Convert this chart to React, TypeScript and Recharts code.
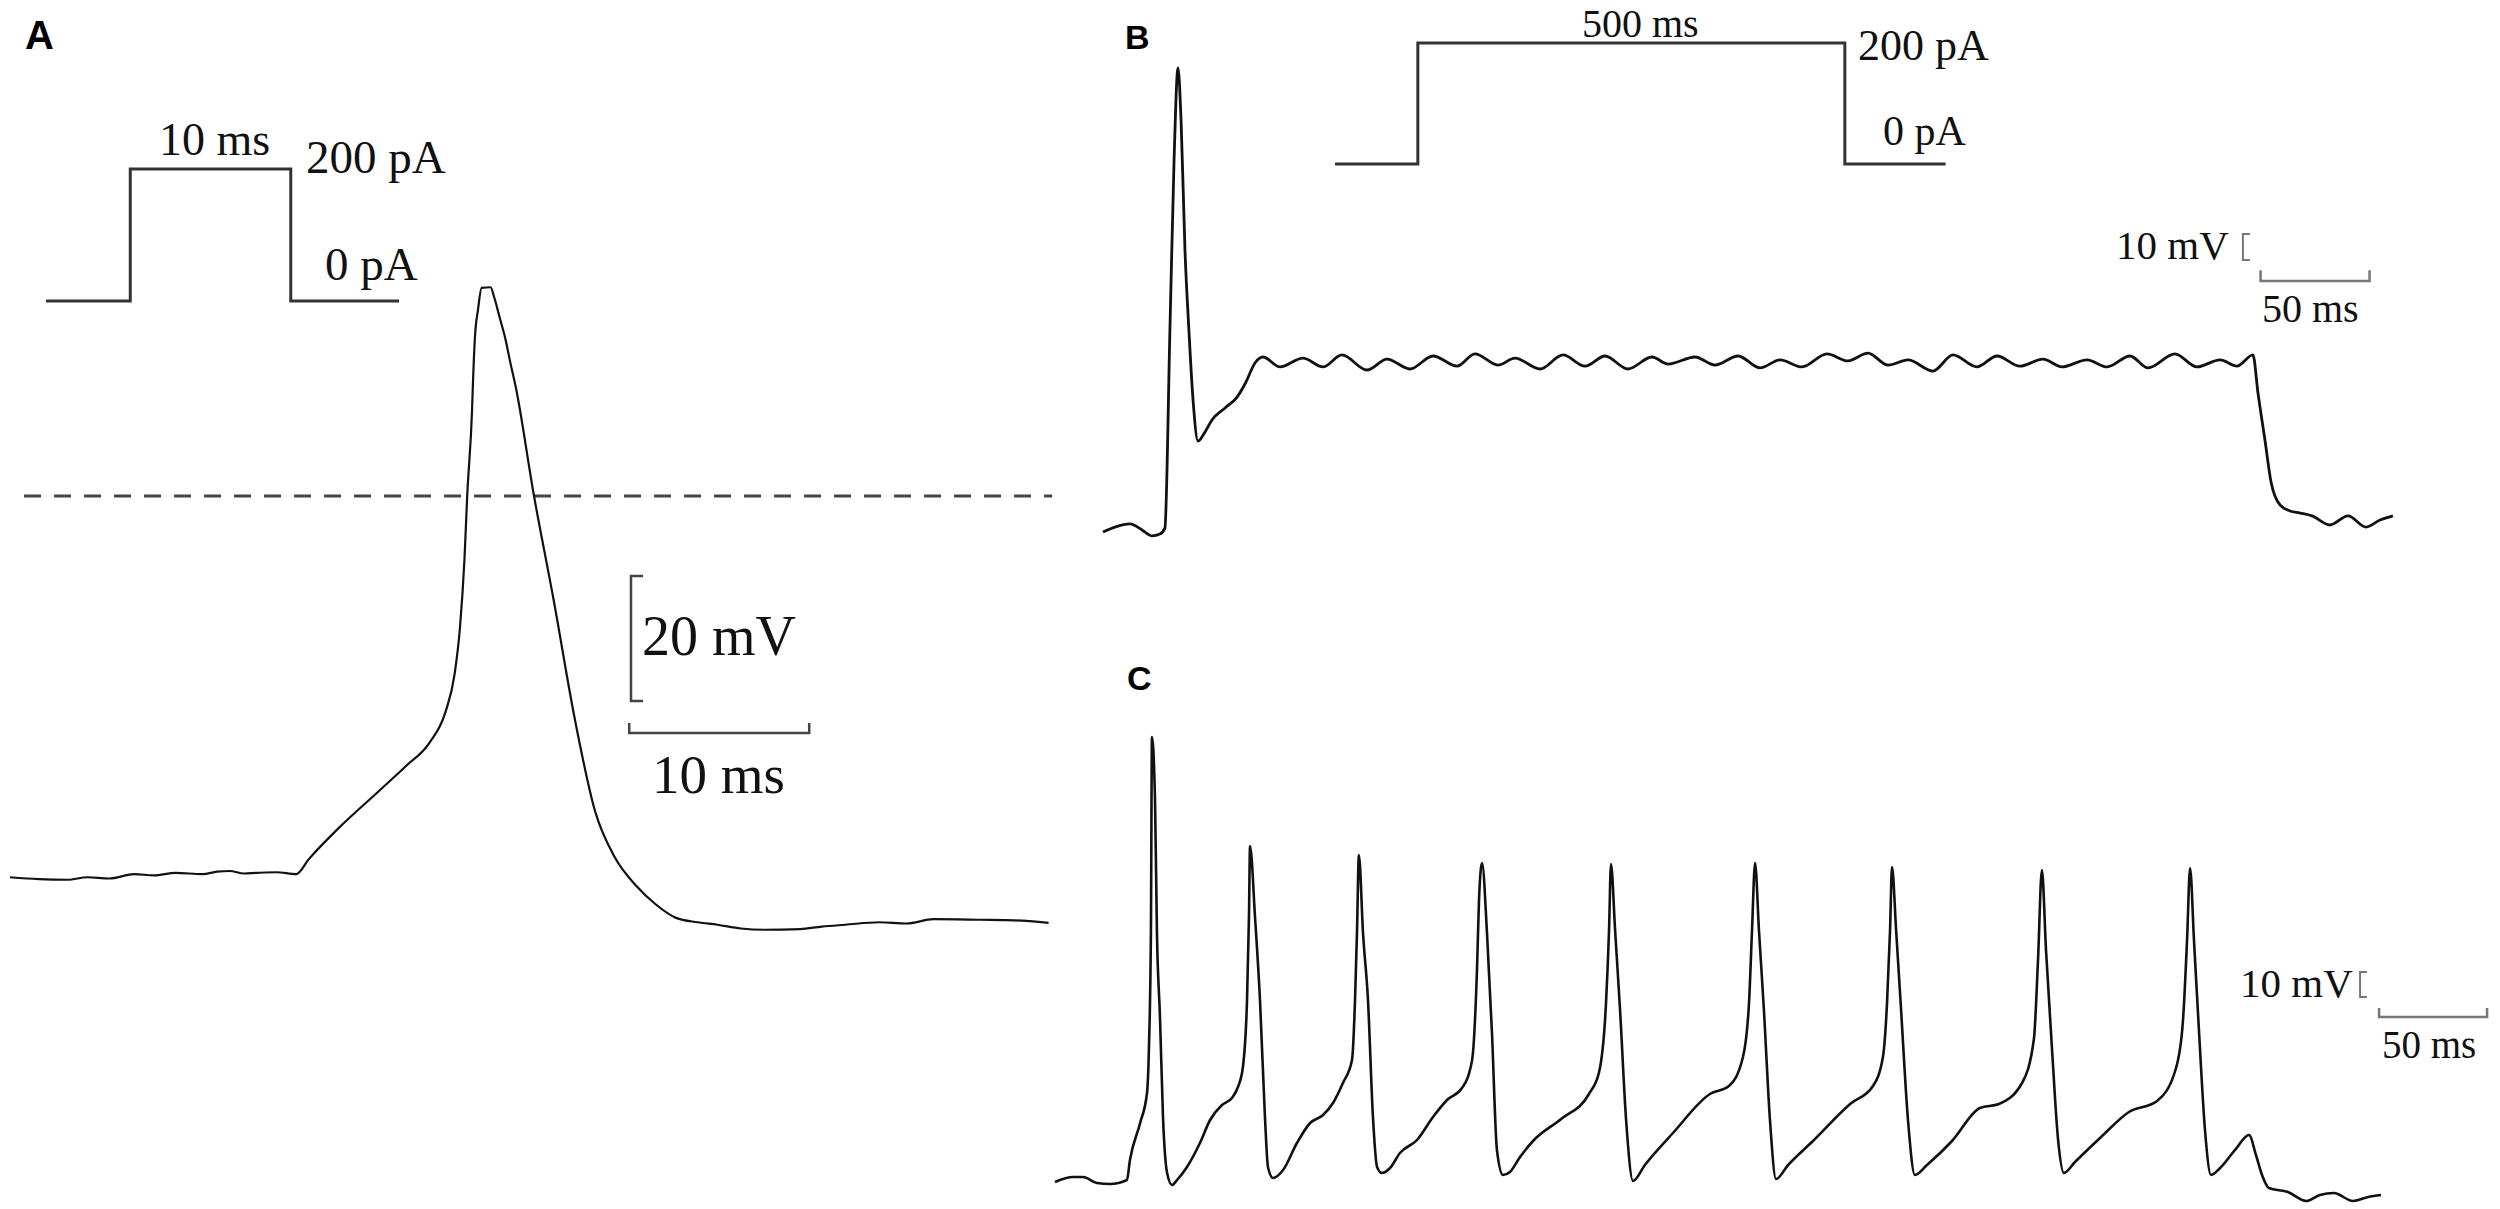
import React from 'react';
import { LineChart, Line, XAxis, YAxis, ReferenceLine } from 'recharts';

const W = 2500;
const H = 1209;

// ---- Panel A: single spike evoked by a 10 ms step ----
const traceATime = [0, 1.6, 3.2, 4.3, 5.5, 6.9, 8.0, 9.2, 10.7, 11.5, 12.2, 13.0, 13.7, 14.8, 15.9, 16.6, 18.2, 20.5, 22.0, 23.3, 24.2, 24.7, 25.0, 25.25, 25.4, 25.67, 25.72, 25.83, 26.0, 26.2, 26.7, 26.9, 27.2, 27.5, 27.8, 28.1, 29.1, 30.2, 31.4, 32.5, 33.6, 34.8, 35.9, 37.0, 38.2, 39.3, 40.6, 41.9, 43.9, 45.1, 46.4, 48.3, 49.8, 51.3, 53.9, 55.8, 57.7];
const traceAVolt = [-61.0, -61.3, -61.4, -61.0, -61.2, -60.5, -60.7, -60.3, -60.5, -60.1, -60.0, -60.4, -60.3, -60.2, -60.5, -58.1, -53.3, -47.2, -43.2, -39.5, -34.5, -28.5, -21.0, -10.0, 0, 13.8, 18.1, 25.4, 29.8, 33.3, 33.4, 31.8, 28.6, 25.4, 21.3, 17.4, 0.2, -16.6, -36.0, -50.4, -57.8, -62.4, -65.4, -67.5, -68.2, -68.6, -69.2, -69.4, -69.3, -68.9, -68.6, -68.2, -68.4, -67.7, -67.8, -67.9, -68.3];
const stimATime = [0, 5.25, 5.25, 15.25, 15.25, 22];
const stimACurrent = [0, 0, 200, 200, 0, 0];

// ---- Panel B: 500 ms step, single spike then plateau ----
const traceBTime = [0, 5.5, 12.4, 17.9, 22.5, 26.1, 28.4, 30.7, 32.6, 34.4, 35.8, 37.6, 39.4, 41.3, 43.6, 46.8, 50.0, 56.0, 61.5, 65.6, 69.7, 73.4,
  81.2, 91.7, 100.9, 109.6, 121.1, 130.3, 140.8, 151.4, 162.4, 170.6, 181.2, 189.0, 200.5, 211.0, 221.1, 230.3, 240.8, 251.8, 259.2, 271.6,
  280.7, 291.3, 301.4, 310.6, 320.6, 332.1, 341.7, 350.9, 360.1, 369.3, 380.7, 389.9, 400.9, 410.1, 420.6, 431.2, 439.9, 451.4, 460.6, 471.1,
  479.4, 491.7, 501.8, 512.4, 520.2, 527.5, 529.8, 533.0, 535.8, 539.9, 544.5, 549.1, 554.6, 562.8, 571.1, 579.4, 585.8, 591.7];
const traceBVolt = [-60, -58.1, -56.9, -59.2, -61.5, -60.8, -58.5, 17.7, 83.1, 118.5, 98.5, 48.5, 17.7, -9.2, -25, -21.5, -16.9, -12.3, -8.1, -2.3, 5.0, 7.3,
  3.5, 6.9, 3.5, 8.1, 2.3, 6.5, 2.7, 7.7, 3.8, 8.5, 4.2, 6.9, 2.7, 8.1, 3.8, 7.7, 2.7, 7.3, 4.6, 7.3,
  4.2, 7.7, 3.1, 6.2, 3.5, 8.5, 5.8, 8.8, 4.2, 6.2, 1.9, 8.1, 3.5, 7.7, 3.8, 6.5, 3.5, 6.2, 3.5, 7.7,
  3.1, 8.5, 3.5, 6.2, 3.8, 8.1, -6.5, -24.6, -40.8, -49.6, -51.9, -52.7, -53.8, -57.3, -53.8, -58.1, -55.4, -53.8];
const stimBTime = [0, 97, 97, 597, 597, 715];
const stimBCurrent = [0, 0, 200, 200, 0, 0];

// ---- Panel C: repetitive firing ----
const traceCTime = [0, 8.3, 13.0, 19.4, 25.5, 33.3, 34.7, 39.4, 42.6, 43.5, 44.4, 44.9, 46.3, 47.2, 48.6, 50.0, 51.9, 54.2, 56.5,
  61.1, 67.1, 71.8, 77.3, 81.9, 84.7, 87.0, 88.9, 89.8, 90.3, 92.6, 94.9, 97.2, 98.6, 100.9, 105.6,
  112.0, 118.1, 124.1, 128.7, 133.3, 137.5, 138.9, 139.8, 140.7, 142.6, 144.9, 147.2, 149.1, 151.4, 155.1,
  159.7, 167.6, 175.0, 181.5, 188.4, 192.1, 193.5, 195.4, 196.3, 197.7, 200.0, 202.3, 204.6, 207.4, 210.6,
  215.3, 221.3, 234.3, 247.2, 251.9, 255.1, 256.5, 257.4, 259.3, 261.6, 264.4, 267.6, 273.1,
  286.1, 303.2, 312.0, 318.5, 321.3, 322.7, 324.1, 325.9, 328.2, 331.0, 333.8, 339.4,
  350.9, 368.1, 378.7, 383.3, 385.2, 386.6, 387.5, 389.4, 391.7, 394.9, 398.1, 403.7,
  415.3, 428.2, 437.0, 447.7, 453.2, 455.1, 456.9, 458.8, 461.6, 464.4, 467.1, 472.2,
  484.3, 497.2, 510.2, 519.0, 522.2, 524.1, 525.5, 527.3, 529.6, 532.4, 535.2, 539.4,
  546.3, 552.8, 556.0, 558.8, 562.0, 570.8, 579.2, 585.6, 592.1, 600.9, 607.9, 613.9];
const traceCVolt = [-60, -58, -58, -60.4, -60.8, -59.2, -51.2, -36.4, -24.4, -6, 39.6, 118, 92.8, 39.6, 6, -34, -56.4, -61.2, -59.2,
  -54, -44.4, -35.2, -29.2, -26.4, -22, -14, 12.8, 46, 74.4, 46, 12.8, -34, -54, -58.4, -55.2,
  -44.4, -36.4, -33.2, -28.4, -20.4, -11.2, 12.8, 39.6, 70.8, 39.6, 12.8, -34, -54, -56.4, -54.4,
  -48.4, -43.2, -34, -27.2, -22.4, -15.2, -8.4, 26, 52.8, 67.6, 39.6, -0.4, -47.2, -57.2, -56,
  -50, -43.6, -34.8, -24.8, -16, 11.6, 40.8, 67.2, 40.8, 8.8, -35.2, -59.6, -53.2,
  -40.4, -24.8, -21.6, -10, 11.6, 40.8, 67.6, 40.8, 8.8, -35.2, -58.8, -53.2,
  -43.6, -28.8, -21.6, -10, 11.6, 40.8, 66, 40.8, 8.8, -35.2, -57.2, -53.2,
  -43.6, -30.4, -28.8, -20.4, -2.8, 28.8, 64.8, 32.8, -7.2, -43.2, -56.4, -52,
  -42, -32, -27.6, -14.4, 4.4, 36.8, 65.6, 36.8, 0.8, -39.2, -57.2, -54.4,
  -47.2, -41.2, -49.2, -57.2, -62.4, -64, -67.6, -65.2, -64.4, -67.6, -66, -65.2];

// scale bar sizes (data units)
const barA = { ms: 10, mV: 20 };
const barB = { ms: 50, mV: 10 };
const barC = { ms: 50, mV: 10 };

const zip = (t: number[], v: number[]) => t.map((x, i) => ({ t: x, v: v[i] }));

// pixel frame of each layer: where (0, yRef) sits and how many px per unit
type Frame = { x0: number; y0: number; px: number; py: number; yRef: number };
const frameA: Frame = { x0: 10, y0: 496, px: 18, py: 6.25, yRef: 0 };
const frameStimA: Frame = { x0: 46, y0: 301, px: 16.05, py: 0.66, yRef: 0 };
const frameB: Frame = { x0: 1103, y0: 532, px: 2.18, py: 2.6, yRef: -60 };
const frameStimB: Frame = { x0: 1335, y0: 164, px: 0.854, py: 0.605, yRef: 0 };
const frameC: Frame = { x0: 1055, y0: 1182, px: 2.16, py: 2.5, yRef: -60 };

const domX = (f: Frame) => [-f.x0 / f.px, (W - f.x0) / f.px];
const domY = (f: Frame) => [f.yRef - (H - f.y0) / f.py, f.yRef + f.y0 / f.py];

// bracket-style scale bars
const vBracket = (t: number, vBot: number, mV: number, serif: number) => [
  { t: t + serif, v: vBot + mV }, { t, v: vBot + mV }, { t, v: vBot }, { t: t + serif, v: vBot },
];
const hBracket = (t: number, v: number, ms: number, tick: number) => [
  { t, v: v + tick }, { t, v }, { t: t + ms, v }, { t: t + ms, v: v + tick },
];

const Layer: React.FC<{ frame: Frame; children: React.ReactNode }> = ({ frame, children }) => (
  <div style={{ position: 'absolute', left: 0, top: 0 }}>
    <LineChart width={W} height={H} margin={{ top: 0, right: 0, bottom: 0, left: 0 }}>
      <XAxis type="number" dataKey="t" domain={domX(frame)} hide allowDataOverflow />
      <YAxis type="number" dataKey="v" domain={domY(frame)} hide allowDataOverflow />
      {children}
    </LineChart>
  </div>
);

const trace = { dot: false, activeDot: false, isAnimationActive: false } as const;

const serif = '"Liberation Serif", "Times New Roman", serif';
const sans = '"Liberation Sans", Arial, sans-serif';

const App: React.FC = () => {
  return (
    <div style={{ position: 'relative', width: W, height: H, background: '#fff', overflow: 'hidden' }}>
      <style>{'body{margin:0}'}</style>

      {/* A */}
      <Layer frame={frameA}>
        <ReferenceLine segment={[{ x: 0.78, y: 0 }, { x: 57.9, y: 0 }]} stroke="#444" strokeWidth={3} strokeDasharray="17 13" ifOverflow="visible" />
        <Line data={zip(traceATime, traceAVolt)} dataKey="v" type="monotone" stroke="#111" strokeWidth={2.2} {...trace} />
        <Line data={vBracket(34.5, -32.8, barA.mV, 0.67)} dataKey="v" type="linear" stroke="#444" strokeWidth={2.5} {...trace} />
        <Line data={hBracket(34.4, -37.9, barA.ms, 1.6)} dataKey="v" type="linear" stroke="#444" strokeWidth={2.5} {...trace} />
      </Layer>
      <Layer frame={frameStimA}>
        <Line data={zip(stimATime, stimACurrent)} dataKey="v" type="linear" stroke="#333" strokeWidth={3} {...trace} />
      </Layer>

      {/* B */}
      <Layer frame={frameB}>
        <Line data={zip(traceBTime, traceBVolt)} dataKey="v" type="monotone" stroke="#111" strokeWidth={2.8} {...trace} />
        <Line data={vBracket(522.9, 44.6, barB.mV, 3.2)} dataKey="v" type="linear" stroke="#777" strokeWidth={2} {...trace} />
        <Line data={hBracket(531, 36.5, barB.ms, 4.2)} dataKey="v" type="linear" stroke="#777" strokeWidth={2.5} {...trace} />
      </Layer>
      <Layer frame={frameStimB}>
        <Line data={zip(stimBTime, stimBCurrent)} dataKey="v" type="linear" stroke="#333" strokeWidth={3} {...trace} />
      </Layer>

      {/* C */}
      <Layer frame={frameC}>
        <Line data={zip(traceCTime, traceCVolt)} dataKey="v" type="monotone" stroke="#111" strokeWidth={2.6} {...trace} />
        <Line data={vBracket(604.2, 14, barC.mV, 3.2)} dataKey="v" type="linear" stroke="#777" strokeWidth={2} {...trace} />
        <Line data={hBracket(613, 6, barC.ms, 3.6)} dataKey="v" type="linear" stroke="#777" strokeWidth={2.5} {...trace} />
      </Layer>

      {/* labels */}
      <svg width={W} height={H} style={{ position: 'absolute', left: 0, top: 0 }}>
        <g fontFamily={sans} fontWeight="bold" fill="#000">
          <text x={25} y={49} fontSize={40}>A</text>
          <text x={1125} y={49} fontSize={34}>B</text>
          <text x={1127} y={690} fontSize={34}>C</text>
        </g>
        <g fontFamily={serif} fill="#111">
          <text x={159} y={155} fontSize={46}>10 ms</text>
          <text x={306} y={173} fontSize={47}>200 pA</text>
          <text x={325} y={280} fontSize={47}>0 pA</text>
          <text x={642} y={655} fontSize={56}>20 mV</text>
          <text x={652} y={793} fontSize={55}>10 ms</text>

          <text x={1582} y={37} fontSize={40}>500 ms</text>
          <text x={1858} y={60} fontSize={44}>200 pA</text>
          <text x={1883} y={145} fontSize={42}>0 pA</text>
          <text x={2116} y={259} fontSize={41}>10 mV</text>
          <text x={2262} y={322} fontSize={40}>50 ms</text>

          <text x={2240} y={997} fontSize={41}>10 mV</text>
          <text x={2382} y={1058} fontSize={39}>50 ms</text>
        </g>
      </svg>
    </div>
  );
};

export default App;
